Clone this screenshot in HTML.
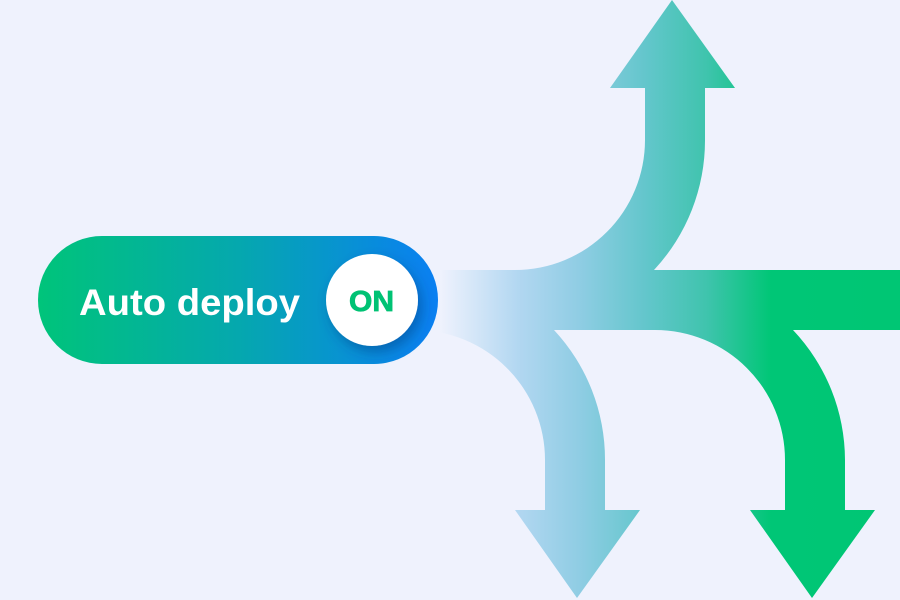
<!DOCTYPE html>
<html><head><meta charset="utf-8"><style>
html,body{margin:0;padding:0;background:#eff2fd;}
svg{display:block}
</style></head><body>
<svg width="900" height="600" viewBox="0 0 900 600" xmlns="http://www.w3.org/2000/svg">
<defs>
<linearGradient id="g" gradientUnits="userSpaceOnUse" x1="440" y1="0" x2="900" y2="0">
<stop offset="0" stop-color="#eff2fd"/>
<stop offset="0.17" stop-color="#b2d7f1"/>
<stop offset="0.3" stop-color="#90cde4"/>
<stop offset="0.45" stop-color="#62c6cb"/>
<stop offset="0.58" stop-color="#3fc4ad"/>
<stop offset="0.72" stop-color="#00c676"/>
<stop offset="1" stop-color="#00c674"/>
</linearGradient>
<linearGradient id="p" x1="0" y1="0" x2="1" y2="0">
<stop offset="0" stop-color="#00c47a"/>
<stop offset="0.5" stop-color="#05a8ae"/>
<stop offset="1" stop-color="#0a7ff2"/>
</linearGradient>
<filter id="s" x="-50%" y="-50%" width="200%" height="200%">
<feDropShadow dx="4" dy="6" stdDeviation="6" flood-color="#063a7a" flood-opacity="0.45"/>
</filter>
</defs>
<g fill="url(#g)">
<rect x="440" y="270" width="460" height="60"/>
<path d="M515 270 A130 130 0 0 0 645 140 L645 88 L705 88 L705 140 A190 190 0 0 1 654 270 Z"/>
<polygon points="610,88 735,88 672,0"/>
<path d="M440 330 L415 330 A130 130 0 0 1 545 460 L545 512 L605 512 L605 460 A190 190 0 0 0 554 330 Z"/>
<polygon points="515,510 640,510 577,598"/>
<path d="M655 330 A130 130 0 0 1 785 460 L785 512 L845 512 L845 460 A190 190 0 0 0 793 330 Z"/>
<polygon points="750,510 875,510 812,598"/>
</g>
<rect x="38" y="236" width="400" height="128" rx="64" fill="url(#p)"/>
<text x="79" y="315" font-family="Liberation Sans, sans-serif" font-size="37" font-weight="bold" fill="#fff" textLength="221" lengthAdjust="spacingAndGlyphs">Auto deploy</text>
<circle cx="372" cy="300" r="46" fill="#fff" filter="url(#s)"/>
<text x="349" y="311" font-family="Liberation Sans, sans-serif" font-size="29" font-weight="bold" fill="#00c274" stroke="#00c274" stroke-width="0.8" textLength="45" lengthAdjust="spacingAndGlyphs">ON</text>
</svg>
</body></html>
